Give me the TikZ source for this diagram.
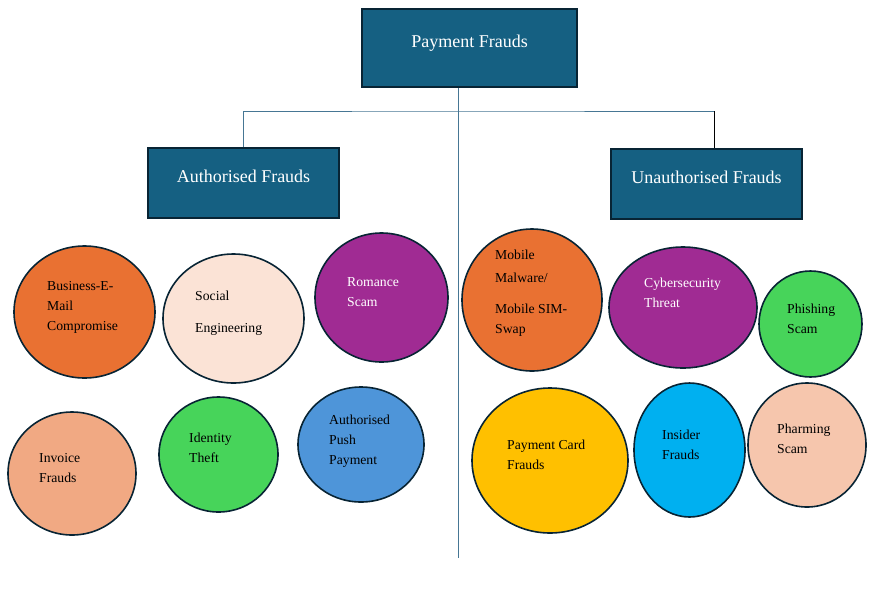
\documentclass[tikz,border=0pt]{standalone}
\usepackage{fontspec}
\setmainfont{Liberation Serif}
\usetikzlibrary{shapes.geometric}
\definecolor{boxfill}{RGB}{21,96,130}
\definecolor{boxline}{RGB}{8,36,52}
\definecolor{linkcol}{RGB}{70,118,148}
\definecolor{orng}{RGB}{233,113,50}
\definecolor{peach}{RGB}{251,227,214}
\definecolor{purp}{RGB}{160,43,147}
\definecolor{salmon}{RGB}{241,169,131}
\definecolor{grn}{RGB}{71,212,90}
\definecolor{blu}{RGB}{78,149,217}
\definecolor{gold}{RGB}{255,192,0}
\definecolor{cyn}{RGB}{0,176,240}
\definecolor{pinkish}{RGB}{246,198,173}
\begin{document}
\begin{tikzpicture}[x=1pt,y=-1pt,
    catbox/.style={draw=boxline,line width=1.6pt,fill=boxfill,text=white,
        font=\fontsize{18}{22}\selectfont,text height=12pt,text depth=14pt},
    blob/.style={ellipse,draw=boxline,line width=1.6pt,inner sep=0pt},
    lbl/.style={anchor=west,align=left,inner sep=0pt,
        font=\fontsize{13.7}{20}\selectfont},
    link/.style={draw=linkcol,line width=1pt}]
    \useasboundingbox (0,0) rectangle (870,614);
    % boxes
    \node[catbox,minimum width=215pt,minimum height=78pt] (pf) at (469.5,48) {Payment Frauds};
    \node[catbox,minimum width=191pt,minimum height=70pt] (af) at (243.5,183) {Authorised Frauds};
    \node[catbox,minimum width=191pt,minimum height=70pt] (uf) at (706.5,184) {Unauthorised Frauds};
    \coordinate (split) at (458,111);
    \coordinate (ujoin) at (714,111);
    \coordinate (stem) at (458,558);
    \draw[link] (pf.south -| split) -- (stem);
    \draw[link] (af.north) |- (split) -- (ujoin);
    \draw[line width=0.8pt] (ujoin) -- (ujoin |- uf.north);
    % circles
    \foreach \name/\x/\y/\w/\h/\col in {bec/84.5/312/141/132/orng,
        soc/233.5/318.5/141/129/peach, rom/381.5/297.5/133/129/purp,
        inv/72/473.5/128/123/salmon, idt/218.5/454.5/119/115/grn,
        app/361/444.5/126/115/blu, mob/532/300/140/142/orng,
        cyb/683/307.5/148/121/purp, phi/810.5/324/103/106/grn,
        pcf/550/460.5/156/145/gold, ins/689.5/450/111/134/cyn,
        pha/807/445/118/124/pinkish}
        {\node[blob,fill=\col,minimum width=\w pt,minimum height=\h pt] (\name) at (\x,\y) {};
        }
    % labels
    \node[lbl] (bect) at (47,307) {Business-E-\\Mail\\Compromise};
    \node[lbl] (soct) at (195,313) {Social\\[12pt]Engineering};
    \node[lbl,text=white] (romt) at (347,292.5) {Romance\\Scam};
    \node[lbl] (invt) at (39,468) {Invoice\\Frauds};
    \node[lbl] (idtt) at (189,448) {Identity\\Theft};
    \node[lbl] (appt) at (329,441.5) {Authorised\\Push\\Payment};
    \node[lbl] (mobt) at (495,293) {Mobile\\[3pt]Malware/\\[11pt]Mobile SIM-\\Swap};
    \node[lbl,text=white] (cybt) at (644,293) {Cybersecurity\\Threat};
    \node[lbl] (phit) at (787,318.5) {Phishing\\Scam};
    \node[lbl] (pcft) at (507,455) {Payment Card\\Frauds};
    \node[lbl] (inst) at (662,444.5) {Insider\\Frauds};
    \node[lbl] (phat) at (777,439) {Pharming\\Scam};
\end{tikzpicture}
\end{document}
